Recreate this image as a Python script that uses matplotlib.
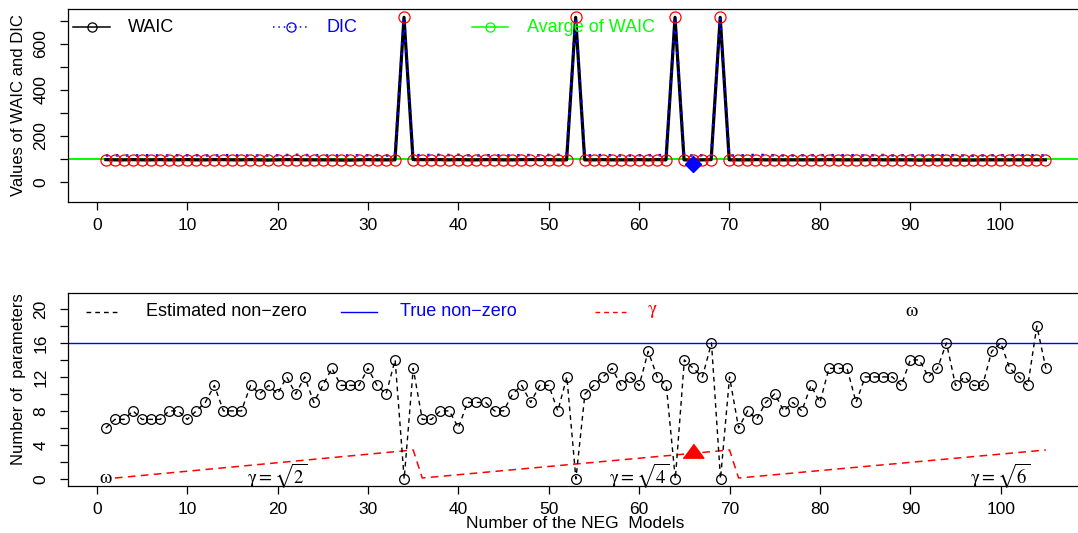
import matplotlib
matplotlib.use("Agg")
import matplotlib.pyplot as plt

plt.rcParams["font.family"] = ["Liberation Sans", "DejaVu Sans"]
plt.rcParams["mathtext.fontset"] = "stix"

# ---------------- data ----------------
models = list(range(1, 106))

waic = [96, 95, 95, 96, 95, 95, 96, 95, 95, 96,
        95, 95, 96, 96, 95, 95, 96, 95, 94, 95,
        96, 96, 95, 95, 95, 95, 94, 94, 95, 96,
        95, 95, 95, 715, 96, 96, 96, 96, 95, 96,
        95, 95, 96, 96, 95, 95, 96, 96, 96, 96,
        95, 95, 715, 95, 95, 96, 95, 95, 95, 96,
        95, 96, 95, 715, 95, 94, 95, 96, 715, 95,
        95, 95, 96, 95, 95, 95, 95, 95, 95, 95,
        96, 95, 95, 95, 95, 96, 95, 95, 95, 95,
        94, 94, 95, 95, 95, 94, 94, 95, 95, 95,
        95, 95, 95, 95, 95]

dic = [114, 115, 114, 114, 115, 115, 114, 114, 115, 115,
       115, 114, 114, 115, 115, 114, 114, 114, 114, 115,
       116, 117, 116, 115, 114, 114, 114, 114, 115, 115,
       115, 114, 114, 715, 115, 116, 116, 117, 116, 117,
       115, 114, 115, 115, 114, 115, 115, 116, 115, 116,
       117, 115, 715, 114, 115, 116, 115, 114, 114, 115,
       115, 116, 115, 715, 114, 114, 115, 115, 715, 114,
       114, 115, 117, 116, 115, 114, 114, 115, 115, 115,
       116, 115, 115, 115, 114, 115, 116, 114, 115, 115,
       114, 114, 115, 115, 115, 114, 113, 114, 115, 115,
       115, 115, 115, 115, 114]

avg_waic = 99
best_model = 66
best_waic_mark = 75
best_gamma_mark = 3

est_nonzero = [6, 7, 7, 8, 7, 7, 7, 8, 8, 7,
               8, 9, 11, 8, 8, 8, 11, 10, 11, 10,
               12, 10, 12, 9, 11, 13, 11, 11, 11, 13,
               11, 10, 14, 0, 13, 7, 7, 8, 8, 6,
               9, 9, 9, 8, 8, 10, 11, 9, 11, 11,
               8, 12, 0, 10, 11, 12, 13, 11, 12, 11,
               15, 12, 11, 0, 14, 13, 12, 16, 0, 12,
               6, 8, 7, 9, 10, 8, 9, 8, 11, 9,
               13, 13, 13, 9, 12, 12, 12, 12, 11, 14,
               14, 12, 13, 16, 11, 12, 11, 11, 15, 16,
               13, 12, 11, 18, 13]
true_nonzero = 16

# gamma grid: three sweeps, one per gamma value
gamma_x = [2, 35, 36, 70, 71, 105]
gamma_y = [0.1, 3.4, 0.1, 3.4, 0.1, 3.4]
gamma_labels = [r"$\mathrm{\gamma}=\sqrt{2}$", r"$\mathrm{\gamma}=\sqrt{4}$",
                r"$\mathrm{\gamma}=\sqrt{6}$"]
gamma_label_x = [20, 60, 100]
gamma_label_y = 0.45

x_ticks = list(range(0, 101, 10))

# ---------------- layout (pixel boxes) ----------------
W, H = 1078, 533
TOP_BOX = (68.3, 9.3, 1083.0, 201.7)      # left, top, right, bottom
BOT_BOX = (68.3, 293.3, 1083.5, 486.0)


def rect(box):
    l, t, r, b = box
    return [l / W, 1 - b / H, (r - l) / W, (b - t) / H]


def fx(box, px):
    return (px - box[0]) / (box[2] - box[0])


def fy(box, py):
    return 1 - (py - box[1]) / (box[3] - box[1])


fig = plt.figure(figsize=(W / 100, H / 100), dpi=100)
ax1 = fig.add_axes(rect(TOP_BOX))
ax2 = fig.add_axes(rect(BOT_BOX))

TICK_FS = 12.5
LEG_FS = 13
OMEGA = r"$\mathrm{\omega}$"

for ax in (ax1, ax2):
    ax.set_xlim(-3.16, 109.16)
    ax.set_xticks(x_ticks)
    ax.tick_params(axis="both", which="both", direction="out", length=5.5,
                   width=0.9, labelsize=TICK_FS, top=False, right=False)
    ax.tick_params(axis="x", pad=6.0)
    ax.tick_params(axis="y", pad=9)
    for sp in ax.spines.values():
        sp.set_linewidth(0.9)

# ---------------- top panel: WAIC / DIC ----------------
ax1.set_ylim(-87, 750)
ax1.set_yticks([0, 200, 400, 600])
ax1.set_yticks([100, 300, 500, 700], minor=True)
for lbl in ax1.get_yticklabels():
    lbl.set_rotation(90)
    lbl.set_va("center")

ax1.axhline(avg_waic, color="#00ff00", lw=1.4, zorder=1)
ax1.plot(models, waic, color="black", lw=2.3, zorder=2)
ax1.plot(models, dic, color="blue", lw=1.8, ls=(0, (1, 3)), zorder=3)
ax1.plot(models, waic, ls="none", marker="o", ms=8.0, mfc="none",
         mec="red", mew=0.9, zorder=4)
ax1.plot([best_model], [best_waic_mark], ls="none", marker="D", ms=8.5,
         color="blue", zorder=5)

ax1.text(fx(TOP_BOX, 18.3), 0.5, "Values of WAIC and DIC", rotation=90,
         ha="center", va="center", fontsize=12, transform=ax1.transAxes)

# legend row
leg_y = fy(TOP_BOX, 27.3)
top_entries = [
    (73.3, 110.0, 128.3, "WAIC", "black", "black", "-"),
    (272.5, 308.5, 326.4, "DIC", "blue", "blue", (0, (1, 2.5))),
    (472.3, 508.3, 526.7, "Avarge of WAIC", "#00ff00", "#00ff00", "-"),
]
for x0, x1, xt, lab, lc, tc, ls in top_entries:
    ax1.plot([fx(TOP_BOX, x0), fx(TOP_BOX, x1)], [leg_y, leg_y], color=lc,
             lw=1.1, ls=ls, transform=ax1.transAxes, clip_on=False)
    ax1.plot([fx(TOP_BOX, (x0 + x1) / 2)], [leg_y], marker="o", ms=6.6,
             mfc="none", mec=lc, mew=0.9, transform=ax1.transAxes,
             clip_on=False)
    ax1.text(fx(TOP_BOX, xt), leg_y, lab, color=tc, fontsize=LEG_FS,
             ha="left", va="center", transform=ax1.transAxes)

# ---------------- bottom panel: number of parameters ----------------
ax2.set_ylim(-0.84, 21.84)
ax2.set_yticks([0, 4, 8, 12, 16, 20])
ax2.set_yticks([2, 6, 10, 14, 18], minor=True)
for lbl in ax2.get_yticklabels():
    lbl.set_rotation(90)
    lbl.set_va("center")

ax2.axhline(true_nonzero, color="blue", lw=1.0, zorder=1)
ax2.plot(gamma_x, gamma_y, color="red", lw=1.1, ls=(0, (5, 3.5)), zorder=2)
ax2.plot(models, est_nonzero, color="black", lw=1.0, ls=(0, (3.4, 2.9)),
         marker="o", ms=7.0, mfc="none", mec="black", mew=0.9, zorder=3)

tri = [(-1, -0.45), (1, -0.45), (0, 0.9)]
ax2.plot([best_model], [best_gamma_mark], ls="none", marker=tri, ms=15,
         color="red", zorder=4)

for gx, gl in zip(gamma_label_x, gamma_labels):
    ax2.text(gx, gamma_label_y, gl, ha="center", va="center", fontsize=13.5)
ax2.text(1, 0, OMEGA, ha="center", va="center", fontsize=14)

ax2.text(fx(BOT_BOX, 18.3), fy(BOT_BOX, 379.2), "Number of  parameters",
         rotation=90, ha="center", va="center", fontsize=12,
         transform=ax2.transAxes)
ax2.text(fx(BOT_BOX, 575.5), fy(BOT_BOX, 524.0), "Number of the NEG  Models",
         ha="center", va="center", fontsize=12.5, transform=ax2.transAxes)

leg2_y = fy(BOT_BOX, 311.8)
bot_entries = [
    (86.0, 120.0, 145.7, "Estimated non\u2212zero", "black", "black",
     (0, (3.4, 2.9)), LEG_FS),
    (340.7, 376.7, 400.0, "True non\u2212zero", "blue", "blue", "-", LEG_FS),
    (595.0, 628.3, 646.7, r"$\mathrm{\gamma}$", "red", "red",
     (0, (3.4, 2.9)), 14),
]
for x0, x1, xt, lab, lc, tc, ls, fs in bot_entries:
    ax2.plot([fx(BOT_BOX, x0), fx(BOT_BOX, x1)], [leg2_y, leg2_y], color=lc,
             lw=1.0, ls=ls, transform=ax2.transAxes, clip_on=False)
    ax2.text(fx(BOT_BOX, xt), leg2_y, lab, color=tc, fontsize=fs,
             ha="left", va="center", transform=ax2.transAxes)
ax2.text(fx(BOT_BOX, 905.0), leg2_y, OMEGA, color="black", fontsize=14,
         ha="left", va="center", transform=ax2.transAxes)

fig.savefig("out.png", dpi=100)
